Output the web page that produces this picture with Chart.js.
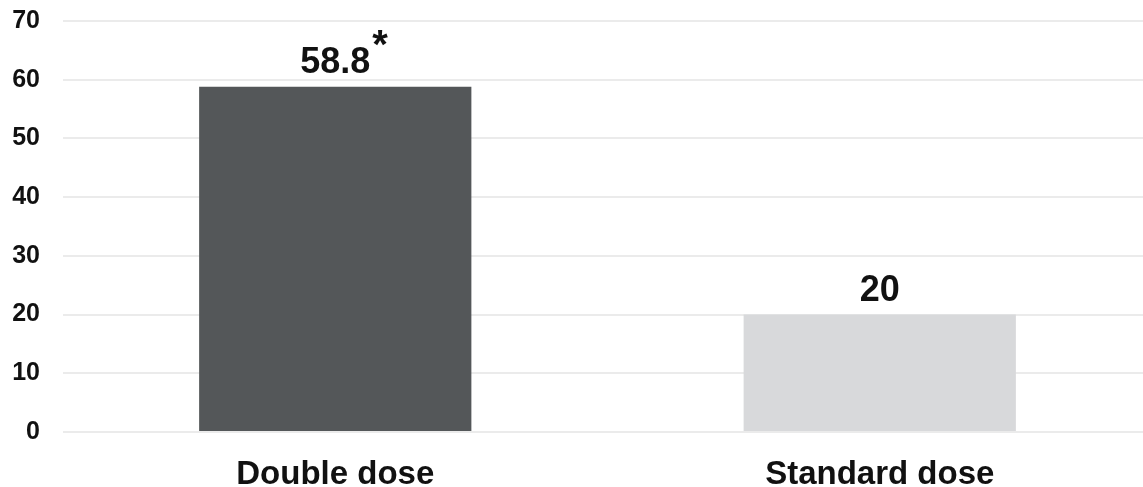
<!DOCTYPE html>
<html>
<head>
<meta charset="utf-8">
<script src="https://cdn.jsdelivr.net/npm/chart.js@4.4.1/dist/chart.umd.min.js"></script>
<style>
  html, body { margin: 0; padding: 0; background: #fff; overflow: hidden; }
  #wrap { width: 1152px; height: 504px; margin-top: -17px; }
</style>
</head>
<body>
<div id="wrap"><canvas id="grafico" width="1152" height="504"></canvas></div>
<script>
const categorias = ["Double dose", "Standard dose"];
const valores = [58.8, 20];
const marcas = ["*", ""];
const coresBarras = ["#545759", "#d8d9db"];
const ticksY = [0, 10, 20, 30, 40, 50, 60, 70];

const fonte = "'Liberation Sans', Arial, sans-serif";

// rótulos de valor acima das barras
const rotulosPlugin = {
  id: "rotulos",
  afterDatasetsDraw(chart) {
    const ctx = chart.ctx;
    const meta = chart.getDatasetMeta(0);
    ctx.save();
    ctx.fillStyle = "#111";
    ctx.textBaseline = "alphabetic";
    meta.data.forEach((bar, i) => {
      const texto = String(valores[i]);
      ctx.font = "bold 36px " + fonte;
      ctx.textAlign = "center";
      const y = bar.y - 14;
      ctx.fillText(texto, bar.x, y);
      if (marcas[i]) {
        const w = ctx.measureText(texto).width;
        ctx.font = "bold 40px " + fonte;
        ctx.textAlign = "left";
        ctx.fillText(marcas[i], bar.x + w / 2 + 2, y - 15);
      }
    });
    ctx.restore();
  },
};

const ctxGrafico = document.getElementById("grafico");
new Chart(ctxGrafico.getContext("2d"), {
  type: "bar",
  data: {
    labels: categorias,
    datasets: [
      {
        data: valores,
        backgroundColor: coresBarras,
        borderWidth: 0,
        categoryPercentage: 1,
        barPercentage: 0.5,
      },
    ],
  },
  options: {
    responsive: false,
    animation: false,
    layout: { padding: { left: 12, top: 0, right: 0, bottom: 0 } },
    plugins: {
      legend: { display: false },
      tooltip: { enabled: false },
    },
    scales: {
      y: {
        min: 0,
        max: 70,
        afterBuildTicks: (scale) => {
          scale.ticks = ticksY.map((v) => ({ value: v }));
        },
        afterFit: (scale) => {
          scale.width = 51;
        },
        border: { display: false },
        grid: { color: "#ebebeb", lineWidth: 2, drawTicks: false },
        ticks: {
          color: "#111",
          padding: 23,
          font: { family: fonte, size: 25, weight: "bold" },
        },
      },
      x: {
        afterFit: (scale) => {
          scale.height = 55;
        },
        border: { display: false },
        grid: { display: false },
        ticks: {
          color: "#111",
          padding: 15,
          font: { family: fonte, size: 33, weight: "bold" },
        },
      },
    },
  },
  plugins: [rotulosPlugin],
});
</script>
</body>
</html>
